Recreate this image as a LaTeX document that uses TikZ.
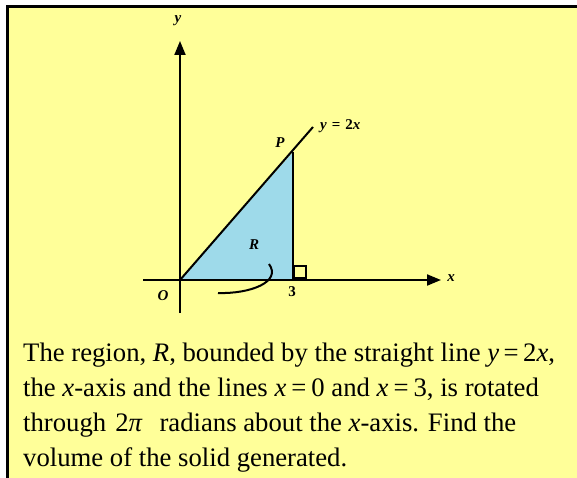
\documentclass[tikz,border=0pt]{standalone}
\usepackage{fontspec}
\setmainfont{Liberation Serif}
\usetikzlibrary{arrows.meta}
\definecolor{notepad}{RGB}{255,255,153}
\definecolor{regionblue}{RGB}{158,218,234}

\begin{document}
\begin{tikzpicture}[
  x=1pt, y=-1pt,
  axis/.style={line width=2pt, -{Triangle[length=14pt, width=11pt]}},
  curve/.style={line width=2pt},
  lbl/.style={font=\fontsize{15}{17}\selectfont\bfseries\itshape, inner sep=0pt},
  qline/.style={anchor=base west, inner sep=0pt, font=\fontsize{26.7}{35}\selectfont},
  >=stealth
]
  \useasboundingbox (0,0) rectangle (577,478);

  % Note box
  \fill[white] (0,0) rectangle (577,478);
  \filldraw[fill=notepad, draw=black, line width=3pt] (7.5,6.5) rectangle (590,490);

  % Points
  \coordinate (O) at (180,280);
  \coordinate (P) at (293,152);
  \coordinate (F) at (293,280);
  \coordinate (L) at (313,127);
  \coordinate (xa) at (143,280);
  \coordinate (xb) at (441,280);
  \coordinate (ya) at (180,313);
  \coordinate (yb) at (180,41);

  % Region R
  \fill[regionblue] (O) -- (P) -- (F) -- cycle;

  % Axes
  \draw[axis] (xa) -- (xb);
  \draw[axis] (ya) -- (yb);

  % Line y = 2x and ordinate at x = 3
  \draw[curve] (O) -- (L);
  \draw[curve] (P) -- (F);
  \draw[line width=1.8pt] (294,266) rectangle (306,278);

  % Rotation arrow
  \coordinate (r1) at (218,293);
  \coordinate (r2) at (269,264);
  \draw[curve] (r1) .. controls (250,294) and (282,282) .. (r2);

  % Labels
  \node[lbl] (ylab) at (178,21) {y};
  \node[lbl] (xlab) at (451,278) {x};
  \node[lbl] (olab) at (163,296) {O};
  \node[lbl, font=\fontsize{15}{17}\selectfont\bfseries] (three) at (292,292) {3};
  \node[lbl] (plab) at (280,143) {P};
  \node[lbl] (rlab) at (254,245) {R};
  \node[lbl, anchor=west, font=\fontsize{15}{17}\selectfont\bfseries] (eqn) at (320,126)
    {\textit{y}\hspace{5pt}=\hspace{5pt}2\textit{x}};

  % Question
  \node[qline] (q1) at (23,361.7)
    {The region, \textit{R}, bounded by the straight line \textit{y}\,=\,2\textit{x},};
  \node[qline] (q2) at (23,396.7)
    {the \textit{x}-axis and the lines \textit{x}\hspace{5pt}=\hspace{5pt}0 and \textit{x}\hspace{5pt}=\hspace{5pt}3, is rotated};
  \node[qline] (q3) at (23,431.7)
    {through\hspace{9pt}2\textit{π}\hspace{17pt}radians about the \textit{x}-axis. Find the};
  \node[qline] (q4) at (23,466.7)
    {volume of the solid generated.};
\end{tikzpicture}
\end{document}
